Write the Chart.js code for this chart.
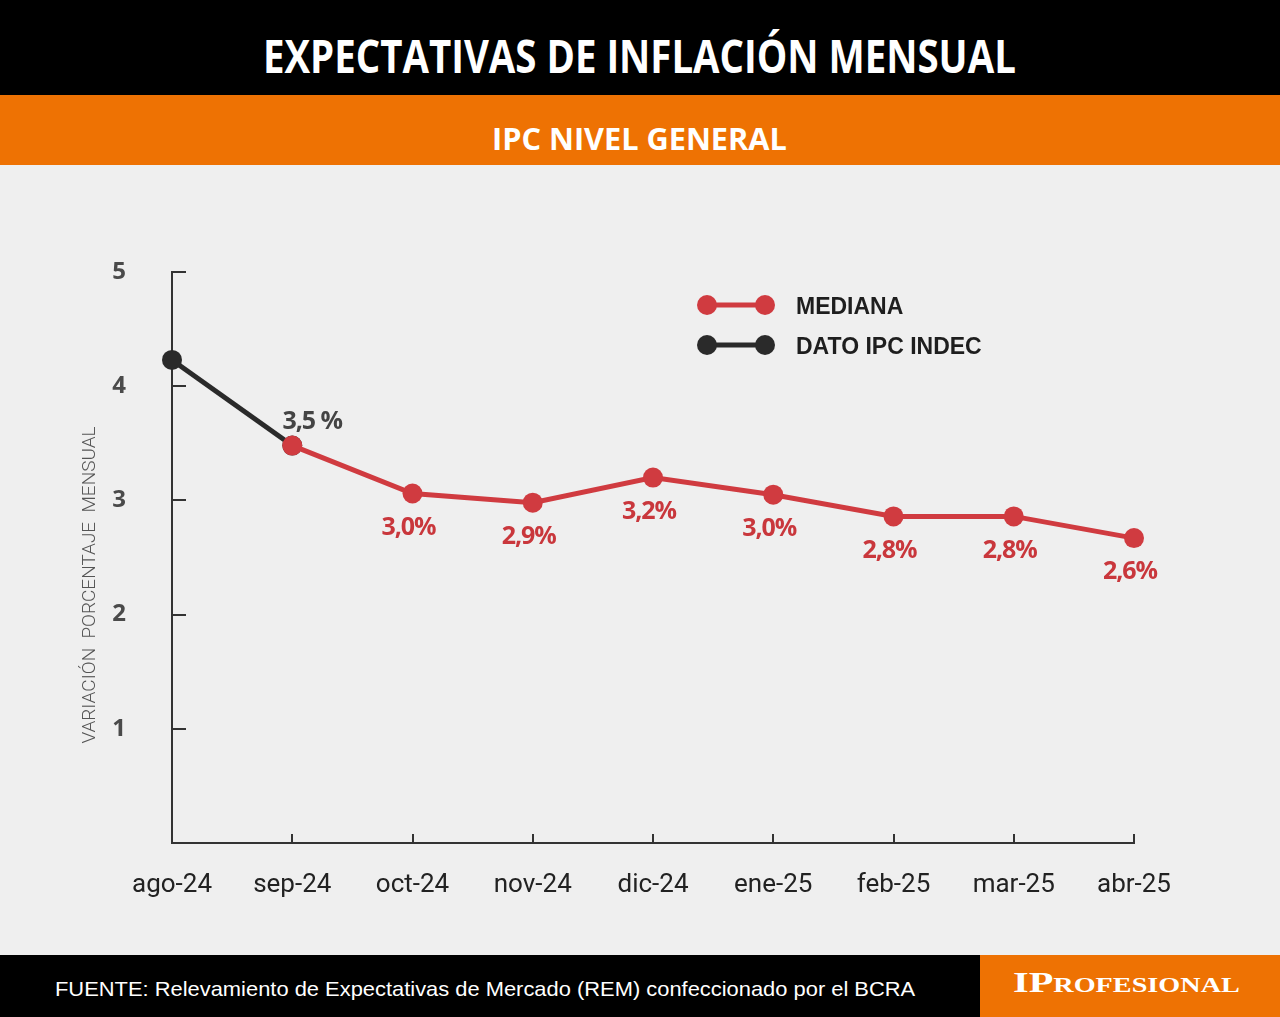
<!DOCTYPE html>
<html>
<head>
<meta charset="utf-8">
<script src="https://cdn.jsdelivr.net/npm/chart.js@4.4.1/dist/chart.umd.min.js"></script>
<style>
  html, body { margin: 0; padding: 0; }
  body { width: 1280px; height: 1017px; position: relative; overflow: hidden; background: #efefef; }
  #top { position: absolute; left: 0; top: 0; width: 1280px; height: 95px; background: #000; }
  #band { position: absolute; left: 0; top: 95px; width: 1280px; height: 70px; background: #ee7203; }
  .fit { position: absolute; white-space: nowrap; color: #fff; transform-origin: 0 50%; }
  #title { font: 700 46px "Open Sans", sans-serif; top: 24px; }
  #subtitle { font: 700 31px "Open Sans", sans-serif; top: 117px; }
  #wrap { position: absolute; left: 0; top: 165px; width: 1280px; height: 790px; }
  #foot { position: absolute; left: 0; top: 955px; width: 1280px; height: 62px; background: #000; }
  #brandBox { position: absolute; left: 980px; top: 955px; width: 300px; height: 62px; background: #ee7203; }
  #source { font: 400 21px "Liberation Sans", Arial, sans-serif; top: 977px; left: 55px; }
  #brand { font: 700 30px "Liberation Serif", serif; font-variant: small-caps; top: 965px; left: 1013px; }
</style>
</head>
<body>
<div id="top"></div>
<div id="band"></div>
<div id="wrap"><canvas id="chart"></canvas></div>
<div id="foot"></div>
<div id="brandBox"></div>
<span id="title" class="fit">EXPECTATIVAS DE INFLACIÓN MENSUAL</span>
<span id="subtitle" class="fit">IPC NIVEL GENERAL</span>
<span id="source" class="fit">FUENTE: Relevamiento de Expectativas de Mercado (REM) confeccionado por el BCRA</span>
<span id="brand" class="fit">IProfesional</span>
<script>
// meses del eje x
const months = ['ago-24', 'sep-24', 'oct-24', 'nov-24', 'dic-24', 'ene-25', 'feb-25', 'mar-25', 'abr-25'];
// dato IPC INDEC (observado)
const indecValues = [4.23, 3.48, null, null, null, null, null, null, null];
const indecLabels = [null, '3,5 %', null, null, null, null, null, null, null];
// mediana REM
const medianaValues = [null, 3.48, 3.06, 2.98, 3.20, 3.05, 2.86, 2.86, 2.67];
const medianaLabels = [null, null, '3,0%', '2,9%', '3,2%', '3,0%', '2,8%', '2,8%', '2,6%'];
const yTicks = [1, 2, 3, 4, 5];

const RED = '#d03b40';
const DARK = '#2a2a2a';

// ajusta el ancho de los textos de cabecera y pie
function fit(id, left, width) {
  const el = document.getElementById(id);
  const w = el.offsetWidth;
  el.style.left = left + 'px';
  el.style.transform = 'scaleX(' + (width / w) + ')';
}

// marcas de eje hacia adentro, titulo del eje y, leyenda y etiquetas
const decor = {
  id: 'decor',
  afterDraw(chart) {
    const ctx = chart.ctx;
    const x = chart.scales.x, y = chart.scales.y;
    ctx.save();
    ctx.strokeStyle = '#333';
    ctx.lineWidth = 2;
    yTicks.forEach(v => {
      const py = Math.round(y.getPixelForValue(v));
      ctx.beginPath(); ctx.moveTo(x.left, py); ctx.lineTo(x.left + 14, py); ctx.stroke();
    });
    for (let i = 1; i < months.length; i++) {
      const px = Math.round(x.getPixelForValue(i));
      ctx.beginPath(); ctx.moveTo(px, y.bottom); ctx.lineTo(px, y.bottom - 9); ctx.stroke();
    }

    // titulo vertical
    ctx.translate(90, 420);
    ctx.rotate(-Math.PI / 2);
    ctx.fillStyle = '#555';
    ctx.font = '300 19px Roboto';
    ctx.textAlign = 'center';
    ctx.textBaseline = 'middle';
    ctx.fillText('VARIACIÓN  PORCENTAJE  MENSUAL', 0, 0);
    ctx.restore();

    // leyenda
    const items = [
      { text: 'MEDIANA', color: RED, y: 140 },
      { text: 'DATO IPC INDEC', color: DARK, y: 180 }
    ];
    ctx.save();
    items.forEach(it => {
      ctx.strokeStyle = it.color;
      ctx.fillStyle = it.color;
      ctx.lineWidth = 5;
      ctx.beginPath(); ctx.moveTo(707, it.y); ctx.lineTo(765, it.y); ctx.stroke();
      [707, 765].forEach(cx => { ctx.beginPath(); ctx.arc(cx, it.y, 10, 0, Math.PI * 2); ctx.fill(); });
      ctx.fillStyle = '#1e1e1e';
      ctx.font = '700 23px "Liberation Sans"';
      ctx.textAlign = 'left';
      ctx.textBaseline = 'middle';
      ctx.fillText(it.text, 796, it.y + 3);
    });
    ctx.restore();
  },
  afterDatasetsDraw(chart) {
    const ctx = chart.ctx;
    ctx.save();
    ctx.font = '700 25px "Open Sans"';
    ctx.letterSpacing = '-1px';
    ctx.textAlign = 'center';
    ctx.textBaseline = 'middle';
    chart.data.datasets.forEach((ds, di) => {
      const meta = chart.getDatasetMeta(di);
      ds.valueLabels.forEach((lbl, i) => {
        if (!lbl) return;
        const pt = meta.data[i];
        ctx.fillStyle = ds.labelColor;
        if (di === 1) ctx.fillText(lbl, pt.x + 20, pt.y - 24);
        else ctx.fillText(lbl, pt.x - 4, pt.y + 34);
      });
    });
    ctx.restore();
  }
};

const ctx = document.getElementById('chart').getContext('2d');
const chart = new Chart(ctx, {
  type: 'line',
  data: {
    labels: months,
    datasets: [
      {
        label: 'MEDIANA',
        data: medianaValues,
        valueLabels: medianaLabels,
        labelColor: '#c9373c',
        borderColor: RED,
        backgroundColor: RED,
        borderWidth: 5,
        pointRadius: 10,
        pointBorderWidth: 0,
        pointHoverRadius: 10
      },
      {
        label: 'DATO IPC INDEC',
        data: indecValues,
        valueLabels: indecLabels,
        labelColor: '#444',
        borderColor: DARK,
        backgroundColor: DARK,
        borderWidth: 5,
        pointRadius: 10,
        pointBorderWidth: 0,
        pointHoverRadius: 10
      }
    ]
  },
  options: {
    responsive: true,
    maintainAspectRatio: false,
    animation: false,
    layout: { padding: { left: 0, right: 146, top: 107, bottom: 0 } },
    plugins: { legend: { display: false }, tooltip: { enabled: false } },
    scales: {
      x: {
        offset: false,
        grid: { display: false, drawTicks: false },
        border: { display: true, color: '#333', width: 2 },
        ticks: { color: '#222', font: { family: 'Roboto', size: 26 }, padding: 27, maxRotation: 0, autoSkip: false },
        afterFit(s) { s.height = 112; }
      },
      y: {
        min: 0,
        max: 5,
        grid: { display: false, drawTicks: false },
        border: { display: true, color: '#333', width: 2 },
        ticks: {
          stepSize: 1,
          color: '#4a4a4a',
          font: { family: 'Open Sans', size: 24, weight: '700' },
          padding: 46,
          callback: v => (v === 0 ? '' : v)
        },
        afterFit(s) { s.width = 172; }
      }
    }
  },
  plugins: [decor]
});

document.fonts.ready.then(() => {
  fit('title', 263, 753);
  fit('subtitle', 492, 295);
  fit('source', 55, 860);
  fit('brand', 1013, 227);
});
</script>
</body>
</html>
